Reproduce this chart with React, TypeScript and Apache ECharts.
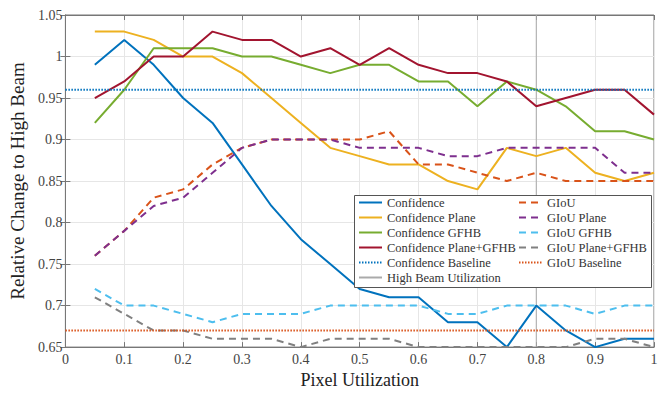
import React, { useEffect, useRef } from "react";
import * as echarts from "echarts";

const xs = [0.05, 0.1, 0.15, 0.2, 0.25, 0.3, 0.35, 0.4, 0.45, 0.5, 0.55, 0.6, 0.65, 0.7, 0.75, 0.8, 0.85, 0.9, 0.95, 1.0];

const confidence = [0.99, 1.02, 0.99, 0.95, 0.92, 0.87, 0.82, 0.78, 0.75, 0.72, 0.71, 0.71, 0.68, 0.68, 0.65, 0.70, 0.67, 0.65, 0.66, 0.66];
const confidencePlane = [1.03, 1.03, 1.02, 1.0, 1.0, 0.98, 0.95, 0.92, 0.89, 0.88, 0.87, 0.87, 0.85, 0.84, 0.89, 0.88, 0.89, 0.86, 0.85, 0.86];
const confidenceGFHB = [0.92, 0.96, 1.01, 1.01, 1.01, 1.0, 1.0, 0.99, 0.98, 0.99, 0.99, 0.97, 0.97, 0.94, 0.97, 0.96, 0.94, 0.91, 0.91, 0.90];
const confidencePlaneGFHB = [0.95, 0.97, 1.0, 1.0, 1.03, 1.02, 1.02, 1.0, 1.01, 0.99, 1.01, 0.99, 0.98, 0.98, 0.97, 0.94, 0.95, 0.96, 0.96, 0.93];
const giou = [0.76, 0.79, 0.83, 0.84, 0.87, 0.89, 0.9, 0.9, 0.9, 0.9, 0.91, 0.87, 0.87, 0.86, 0.85, 0.86, 0.85, 0.85, 0.85, 0.85];
const giouPlane = [0.76, 0.79, 0.82, 0.83, 0.86, 0.89, 0.9, 0.9, 0.9, 0.89, 0.89, 0.89, 0.88, 0.88, 0.89, 0.89, 0.89, 0.89, 0.86, 0.86];
const giouGFHB = [0.72, 0.70, 0.70, 0.69, 0.68, 0.69, 0.69, 0.69, 0.70, 0.70, 0.70, 0.70, 0.69, 0.69, 0.70, 0.70, 0.70, 0.69, 0.70, 0.70];
const giouPlaneGFHB = [0.71, 0.69, 0.67, 0.67, 0.66, 0.66, 0.66, 0.65, 0.66, 0.66, 0.66, 0.65, 0.65, 0.65, 0.65, 0.65, 0.65, 0.66, 0.66, 0.65];

const confidenceBaseline = 0.96;
const giouBaseline = 0.67;
const highBeamUtilization = 0.8;

const xRange = [0, 1];
const yRange = [0.65, 1.05];

const FONT = "Liberation Serif";

const pair = (vals: number[]) => xs.map((x, i) => [x, vals[i]]);

export default function App() {
  const ref = useRef<HTMLDivElement>(null);
  useEffect(() => {
    if (!ref.current) return;
    const chart = echarts.init(ref.current, null, { renderer: "svg" });
    const solid = (name: string, vals: number[], color: string) => ({
      name, type: "line", data: pair(vals), showSymbol: false, symbol: "none",
      lineStyle: { color, width: 2 }, itemStyle: { color }, z: 2,
    });
    const dashed = (name: string, vals: number[], color: string) => ({
      name, type: "line", data: pair(vals), showSymbol: false, symbol: "none",
      lineStyle: { color, width: 2, type: [7, 5] }, itemStyle: { color }, z: 2,
    });
    const legendText = { fontFamily: FONT, fontSize: 12.5, color: "#333" };
    const legendCommon = {
      orient: "vertical", top: 196, itemGap: 2, itemWidth: 23, itemHeight: 13,
      textStyle: legendText, itemStyle: { opacity: 0 }, padding: 0,
    };
    const frame = { color: "#777" };
    const secondaryX = {
      type: "value", position: "top", min: xRange[0], max: xRange[1], interval: 0.1,
      axisLine: { show: true, lineStyle: frame },
      axisTick: { show: true, inside: true, length: 5, lineStyle: frame },
      axisLabel: { show: false }, splitLine: { show: false },
    };
    const secondaryY = {
      type: "value", position: "right", min: yRange[0], max: yRange[1], interval: 0.05,
      axisLine: { show: true, lineStyle: frame },
      axisTick: { show: true, inside: true, length: 5, lineStyle: frame },
      axisLabel: { show: false }, splitLine: { show: false },
    };
    chart.setOption({
      animation: false,
      textStyle: { fontFamily: FONT },
      grid: { left: 62, right: 13, top: 15, bottom: 40, show: true, borderColor: "#777", borderWidth: 1 },
      xAxis: [
        {
          type: "value", min: xRange[0], max: xRange[1], interval: 0.1,
          name: "Pixel Utilization", nameLocation: "middle", nameGap: 22,
          nameTextStyle: { fontFamily: FONT, fontSize: 18, color: "#222" },
          axisLine: { show: true, lineStyle: frame },
          axisTick: { show: true, inside: true, length: 5, lineStyle: frame },
          axisLabel: { fontFamily: FONT, fontSize: 14, color: "#444", margin: 5 },
          splitLine: { show: true, lineStyle: { color: "#e6e6e6" } },
        },
        secondaryX,
      ],
      yAxis: [
        {
          type: "value", min: yRange[0], max: yRange[1], interval: 0.05,
          name: "Relative Change to High Beam", nameLocation: "middle", nameGap: 26,
          nameTextStyle: { fontFamily: FONT, fontSize: 19, color: "#222" },
          axisLine: { show: true, lineStyle: frame },
          axisTick: { show: true, inside: true, length: 5, lineStyle: frame },
          axisLabel: { fontFamily: FONT, fontSize: 14, color: "#444", margin: 3 },
          splitLine: { show: true, lineStyle: { color: "#e6e6e6" } },
        },
        secondaryY,
      ],
      legend: [
        {
          ...legendCommon, left: 358,
          data: ["Confidence", "Confidence Plane", "Confidence GFHB", "Confidence Plane+GFHB", "Confidence Baseline", "High Beam Utilization"],
        },
        {
          ...legendCommon, left: 518,
          data: ["GIoU", "GIoU Plane", "GIoU GFHB", "GIoU Plane+GFHB", "GIoU Baseline"],
        },
      ],
      graphic: [
        {
          type: "rect", left: 354, top: 195, z: 3,
          shape: { width: 297, height: 92 },
          style: { fill: "#fff", stroke: "#555", lineWidth: 1 },
        },
      ],
      series: [
        solid("Confidence", confidence, "#0072BD"),
        solid("Confidence Plane", confidencePlane, "#EDB120"),
        solid("Confidence GFHB", confidenceGFHB, "#77AC30"),
        solid("Confidence Plane+GFHB", confidencePlaneGFHB, "#A2142F"),
        {
          name: "Confidence Baseline", type: "line", showSymbol: false, symbol: "none",
          data: xRange.map((x) => [x, confidenceBaseline]),
          lineStyle: { color: "#0072BD", width: 2, type: [1.5, 1.5] }, itemStyle: { color: "#0072BD" },
        },
        {
          name: "High Beam Utilization", type: "line", showSymbol: false, symbol: "none",
          data: yRange.map((y) => [highBeamUtilization, y]),
          lineStyle: { color: "#aaaaaa", width: 1 }, itemStyle: { color: "#aaaaaa" }, z: 1,
        },
        dashed("GIoU", giou, "#D95319"),
        dashed("GIoU Plane", giouPlane, "#7E2F8E"),
        dashed("GIoU GFHB", giouGFHB, "#4DBEEE"),
        dashed("GIoU Plane+GFHB", giouPlaneGFHB, "#808080"),
        {
          name: "GIoU Baseline", type: "line", showSymbol: false, symbol: "none",
          data: xRange.map((x) => [x, giouBaseline]),
          lineStyle: { color: "#D95319", width: 2, type: [1.5, 1.5] }, itemStyle: { color: "#D95319" },
        },
      ],
    });
    return () => chart.dispose();
  }, []);
  return <div ref={ref} style={{ position: "absolute", left: 0, top: 0, width: 667, height: 394 }} />;
}
